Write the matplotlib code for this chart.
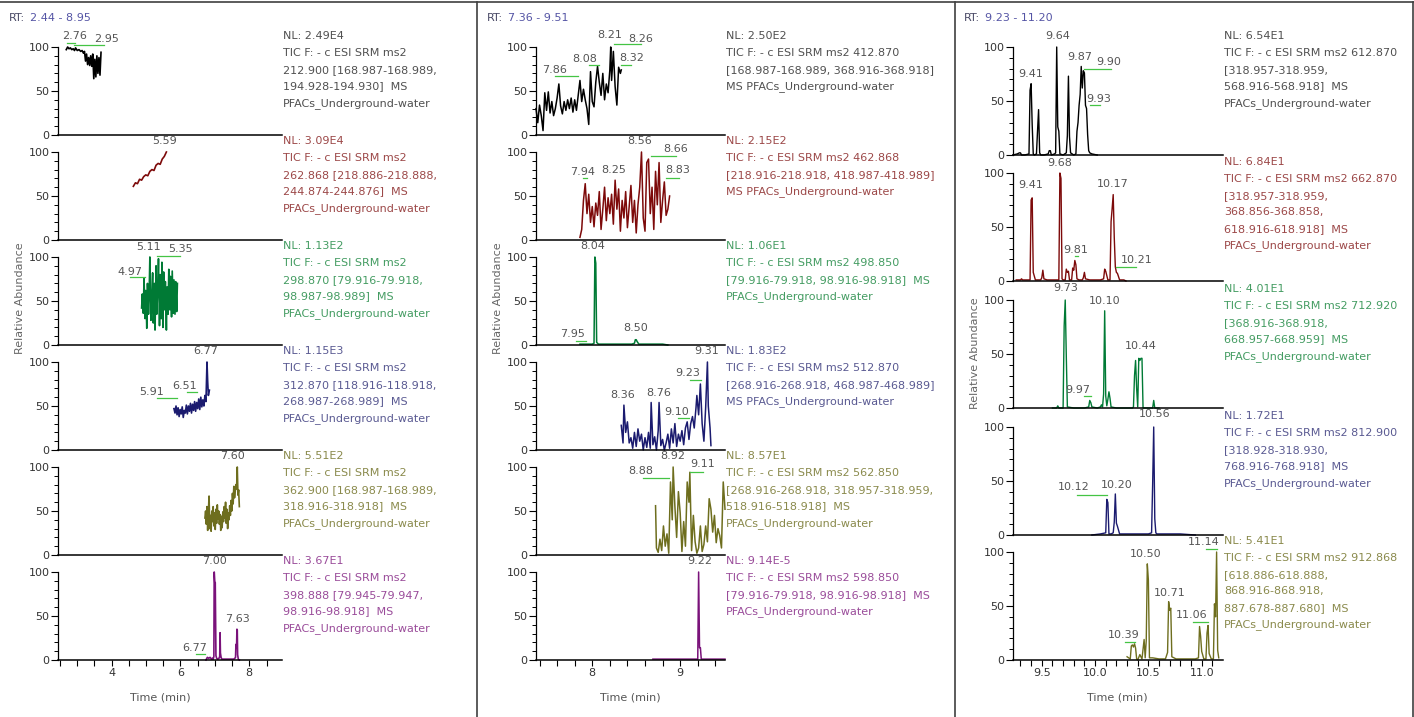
import matplotlib
matplotlib.use("Agg")
import matplotlib.pyplot as plt
from matplotlib.lines import Line2D

W, H = 1414, 717

# ---------------- data: column 1 (RT 2.44 - 8.95) ----------------
t_212 = [2.68, 2.72, 2.76, 2.80, 2.84, 2.88, 2.92, 2.95, 3.00, 3.05, 3.10, 3.14, 3.18, 3.21, 3.24,
         3.27, 3.30, 3.33, 3.36, 3.39, 3.42, 3.45, 3.48, 3.51, 3.54, 3.57, 3.60, 3.63, 3.66, 3.69]
i_212 = [97, 100, 98, 99, 97, 98, 96, 99, 96, 97, 95, 96, 93, 95, 84,
         92, 80, 88, 79, 90, 78, 92, 64, 86, 66, 90, 70, 88, 68, 94]

t_262 = [4.63, 4.69, 4.75, 4.81, 4.87, 4.93, 4.99, 5.05, 5.11, 5.17, 5.23, 5.29, 5.35, 5.41, 5.47, 5.53, 5.59]
i_262 = [61, 65, 64, 69, 68, 72, 74, 73, 78, 80, 79, 85, 87, 86, 92, 95, 100]

t_298 = [4.87, 4.89, 4.92, 4.94, 4.97, 4.99, 5.02, 5.04, 5.07, 5.09, 5.11, 5.14, 5.16, 5.19, 5.21,
         5.24, 5.26, 5.29, 5.31, 5.34, 5.36, 5.39, 5.41, 5.44, 5.46, 5.49, 5.51, 5.54, 5.56, 5.59,
         5.61, 5.64, 5.66, 5.69, 5.71, 5.74, 5.76, 5.79, 5.81, 5.84, 5.86, 5.89, 5.91]
i_298 = [42, 58, 36, 76, 30, 62, 19, 70, 35, 60, 100, 28, 45, 82, 25,
         70, 17, 90, 35, 65, 98, 22, 80, 30, 94, 20, 83, 40, 72, 17,
         66, 35, 86, 40, 78, 32, 84, 36, 74, 35, 72, 38, 70]

t_312 = [5.81, 5.84, 5.87, 5.90, 5.93, 5.96, 5.99, 6.02, 6.05, 6.08, 6.11, 6.14, 6.17, 6.20, 6.23,
         6.26, 6.29, 6.32, 6.35, 6.38, 6.41, 6.44, 6.47, 6.50, 6.53, 6.56, 6.59, 6.62, 6.65, 6.68,
         6.71, 6.74, 6.76, 6.77, 6.79, 6.81, 6.84]
i_312 = [47, 42, 50, 40, 48, 38, 46, 41, 49, 37, 45, 42, 51, 41, 50,
         44, 53, 42, 52, 45, 55, 44, 54, 47, 58, 46, 60, 49, 57, 50,
         62, 55, 85, 100, 78, 62, 68]

t_362 = [6.71, 6.73, 6.75, 6.77, 6.79, 6.81, 6.83, 6.85, 6.87, 6.89, 6.91, 6.93, 6.95, 6.97, 6.99,
         7.01, 7.03, 7.05, 7.07, 7.09, 7.11, 7.13, 7.15, 7.17, 7.19, 7.21, 7.23, 7.25, 7.27, 7.29,
         7.31, 7.33, 7.35, 7.37, 7.39, 7.41, 7.43, 7.45, 7.47, 7.49, 7.51, 7.53, 7.55, 7.57, 7.59,
         7.61, 7.63, 7.65, 7.67, 7.69, 7.71]
i_362 = [42, 50, 35, 55, 28, 48, 67, 30, 45, 27, 50, 38, 55, 33, 48,
         29, 52, 36, 57, 41, 50, 35, 46, 28, 44, 31, 49, 38, 55, 42,
         60, 36, 52, 30, 48, 40, 56, 45, 62, 50, 70, 58, 78, 65, 72,
         80, 75, 100, 68, 74, 55]

t_398 = [6.74, 6.78, 6.82, 6.86, 6.90, 6.93, 6.95, 6.97, 6.98, 7.00, 7.01, 7.03, 7.05, 7.08, 7.12,
         7.14, 7.15, 7.16, 7.18, 7.20, 7.25, 7.30, 7.35, 7.40, 7.45, 7.50, 7.55, 7.58, 7.60, 7.61,
         7.62, 7.63, 7.64, 7.65, 7.66, 7.68, 7.71]
i_398 = [0, 3, 2, 3, 1, 2, 1, 4, 100, 86, 88, 5, 2, 1, 2,
         4, 31, 8, 3, 1, 1, 1, 1, 1, 1, 1, 1, 2, 3, 16,
         18, 14, 35, 34, 6, 1, 0]

# ---------------- data: column 2 (RT 7.36 - 9.51) ----------------
t_412 = [7.36, 7.38, 7.40, 7.42, 7.44, 7.46, 7.48, 7.50, 7.52, 7.54, 7.56, 7.58, 7.60, 7.62, 7.64,
         7.66, 7.68, 7.70, 7.72, 7.74, 7.76, 7.78, 7.80, 7.82, 7.84, 7.86, 7.88, 7.90, 7.92, 7.94,
         7.96, 7.98, 8.00, 8.02, 8.04, 8.06, 8.08, 8.10, 8.12, 8.14, 8.16, 8.18, 8.20, 8.21, 8.22,
         8.24, 8.26, 8.28, 8.30, 8.32, 8.33]
i_412 = [30, 14, 34, 22, 5, 48, 28, 49, 25, 38, 22, 30, 42, 58, 33,
         24, 38, 28, 40, 30, 42, 26, 40, 28, 45, 62, 38, 52, 40, 30,
         12, 72, 38, 32, 60, 78, 60, 45, 70, 40, 58, 48, 74, 100, 62,
         95, 55, 34, 77, 70, 74]

t_462 = [7.86, 7.88, 7.90, 7.92, 7.94, 7.96, 7.98, 8.00, 8.02, 8.04, 8.06, 8.08, 8.10, 8.12, 8.14,
         8.16, 8.18, 8.20, 8.22, 8.24, 8.26, 8.28, 8.30, 8.32, 8.34, 8.36, 8.38, 8.40, 8.42, 8.44,
         8.46, 8.48, 8.50, 8.52, 8.54, 8.56, 8.58, 8.60, 8.62, 8.64, 8.66, 8.68, 8.70, 8.72, 8.74,
         8.76, 8.78, 8.80, 8.82, 8.84, 8.86, 8.88]
i_462 = [3, 12, 45, 64, 30, 52, 20, 38, 15, 42, 28, 55, 12, 35, 60,
         22, 48, 30, 52, 18, 68, 35, 58, 10, 45, 25, 55, 14, 38, 62,
         20, 45, 8, 40, 60, 100, 25, 10, 88, 92, 30, 60, 12, 78, 40,
         88, 20, 45, 66, 28, 35, 50]

t_498 = [7.86, 7.90, 7.95, 8.00, 8.02, 8.03, 8.04, 8.05, 8.07, 8.15, 8.25, 8.35, 8.45, 8.48, 8.49,
         8.50, 8.51, 8.53, 8.60, 8.70, 8.80, 8.86]
i_498 = [1, 1, 1, 1, 2, 100, 93, 3, 1, 1, 1, 1, 1, 2, 6,
         6, 4, 1, 1, 1, 1, 0]

t_512 = [8.33, 8.35, 8.36, 8.38, 8.40, 8.42, 8.44, 8.46, 8.48, 8.50, 8.52, 8.54, 8.56, 8.58, 8.60,
         8.62, 8.64, 8.66, 8.67, 8.69, 8.71, 8.73, 8.75, 8.76, 8.78, 8.80, 8.82, 8.84, 8.86, 8.88,
         8.90, 8.92, 8.94, 8.96, 8.98, 9.00, 9.02, 9.04, 9.06, 9.08, 9.10, 9.12, 9.14, 9.16, 9.18,
         9.19, 9.21, 9.23, 9.25, 9.27, 9.29, 9.31, 9.32, 9.34, 9.35]
i_512 = [28, 8, 51, 20, 32, 8, 14, 2, 20, 4, 24, 10, 18, 0, 14,
         3, 20, 2, 54, 6, 15, 0, 22, 54, 5, 12, 0, 8, 18, 2,
         24, 8, 30, 4, 18, 10, 22, 6, 25, 32, 12, 30, 38, 25, 48,
         62, 40, 75, 30, 10, 48, 100, 50, 25, 5]

t_562 = [8.72, 8.73, 8.75, 8.77, 8.79, 8.81, 8.83, 8.85, 8.87, 8.89, 8.91, 8.92, 8.94, 8.96, 8.98,
         9.00, 9.02, 9.04, 9.06, 9.08, 9.10, 9.11, 9.13, 9.15, 9.17, 9.19, 9.21, 9.23, 9.25, 9.27,
         9.29, 9.31, 9.33, 9.35, 9.37, 9.39, 9.41, 9.43, 9.45, 9.47, 9.49, 9.51]
i_562 = [56, 8, 3, 18, 5, 33, 10, 24, 2, 83, 40, 100, 55, 20, 72,
         48, 4, 38, 10, 83, 60, 94, 5, 45, 15, 2, 8, 33, 4, 12,
         33, 15, 64, 52, 26, 45, 14, 30, 22, 8, 83, 52]

t_598 = [8.69, 8.80, 8.90, 9.00, 9.10, 9.18, 9.20, 9.21, 9.22, 9.23, 9.24, 9.30, 9.40, 9.51]
i_598 = [1, 1, 1, 1, 1, 1, 1, 100, 14, 14, 1, 1, 1, 1]

# ---------------- data: column 3 (RT 9.23 - 11.20) ----------------
t_612 = [9.23, 9.27, 9.29, 9.30, 9.31, 9.34, 9.38, 9.39, 9.40, 9.41, 9.42, 9.43, 9.45, 9.46, 9.47,
         9.48, 9.49, 9.52, 9.56, 9.57, 9.58, 9.59, 9.62, 9.63, 9.64, 9.65, 9.66, 9.67, 9.70, 9.73,
         9.74, 9.75, 9.76, 9.77, 9.80, 9.82, 9.83, 9.84, 9.85, 9.86, 9.87, 9.88, 9.89, 9.90, 9.91,
         9.92, 9.93, 9.94, 9.95, 9.97, 10.02]
i_612 = [0, 1, 2, 2, 0, 0, 1, 60, 66, 28, 1, 0, 1, 22, 42,
         2, 0, 0, 1, 4, 4, 0, 1, 2, 100, 26, 22, 1, 0, 2,
         18, 73, 17, 2, 0, 1, 22, 30, 46, 56, 82, 62, 78, 76, 46,
         43, 19, 4, 2, 1, 0]

t_662 = [9.26, 9.30, 9.31, 9.32, 9.36, 9.39, 9.40, 9.41, 9.42, 9.44, 9.49, 9.50, 9.51, 9.52, 9.55,
         9.62, 9.66, 9.67, 9.68, 9.69, 9.70, 9.72, 9.73, 9.74, 9.75, 9.76, 9.78, 9.79, 9.80, 9.81,
         9.82, 9.83, 9.85, 9.88, 9.89, 9.90, 9.91, 9.95, 10.05, 10.08, 10.09, 10.10, 10.12, 10.14, 10.15,
         10.16, 10.17, 10.18, 10.19, 10.20, 10.21, 10.23, 10.27, 10.29]
i_662 = [1, 1, 2, 1, 1, 1, 75, 77, 8, 1, 1, 3, 10, 2, 1,
         1, 1, 100, 95, 2, 1, 1, 11, 8, 9, 1, 1, 12, 10, 19,
         15, 2, 1, 1, 3, 8, 2, 1, 1, 2, 11, 9, 1, 1, 55,
         67, 80, 40, 13, 8, 7, 1, 1, 0]

t_712 = [9.60, 9.64, 9.65, 9.66, 9.70, 9.71, 9.72, 9.73, 9.74, 9.80, 9.90, 9.94, 9.95, 9.96, 9.97,
         10.02, 10.05, 10.06, 10.07, 10.08, 10.09, 10.10, 10.11, 10.12, 10.13, 10.14, 10.15, 10.20, 10.30, 10.35,
         10.36, 10.37, 10.38, 10.39, 10.40, 10.41, 10.42, 10.43, 10.44, 10.45, 10.50, 10.54, 10.55, 10.56, 10.60]
i_712 = [0, 0, 2, 0, 0, 76, 100, 48, 1, 0, 0, 1, 7, 5, 1,
         0, 1, 3, 1, 13, 90, 11, 2, 8, 15, 9, 1, 0, 0, 0,
         1, 30, 44, 18, 1, 46, 44, 46, 46, 0, 0, 0, 7, 0, 0]

t_812 = [9.97, 10.05, 10.10, 10.11, 10.12, 10.13, 10.15, 10.17, 10.18, 10.19, 10.20, 10.21, 10.23, 10.30, 10.40,
         10.50, 10.53, 10.54, 10.55, 10.56, 10.57, 10.58, 10.65, 10.80, 10.94]
i_812 = [0, 1, 2, 33, 30, 1, 1, 2, 12, 38, 11, 8, 1, 1, 1,
         1, 2, 47, 100, 15, 2, 1, 1, 1, 0]

t_912 = [10.30, 10.33, 10.34, 10.35, 10.36, 10.37, 10.38, 10.39, 10.40, 10.42, 10.44, 10.46, 10.47, 10.48, 10.49,
         10.50, 10.51, 10.54, 10.60, 10.66, 10.68, 10.69, 10.70, 10.71, 10.72, 10.76, 10.85, 10.94, 10.97, 10.98,
         10.99, 11.00, 11.02, 11.04, 11.05, 11.06, 11.07, 11.09, 11.11, 11.12, 11.13, 11.14, 11.15, 11.16]
i_912 = [3, 1, 13, 14, 12, 15, 11, 1, 0, 5, 1, 19, 2, 18, 89,
         74, 2, 2, 1, 1, 7, 54, 46, 48, 3, 1, 1, 1, 2, 31,
         22, 8, 1, 1, 25, 32, 6, 1, 1, 52, 40, 100, 9, 2]

# ---------------- scan descriptions ----------------
info_212 = ["NL: 2.49E4", "TIC F: - c ESI SRM ms2", "212.900 [168.987-168.989,", "194.928-194.930]  MS", "PFACs_Underground-water"]
info_262 = ["NL: 3.09E4", "TIC F: - c ESI SRM ms2", "262.868 [218.886-218.888,", "244.874-244.876]  MS", "PFACs_Underground-water"]
info_298 = ["NL: 1.13E2", "TIC F: - c ESI SRM ms2", "298.870 [79.916-79.918,", "98.987-98.989]  MS", "PFACs_Underground-water"]
info_312 = ["NL: 1.15E3", "TIC F: - c ESI SRM ms2", "312.870 [118.916-118.918,", "268.987-268.989]  MS", "PFACs_Underground-water"]
info_362 = ["NL: 5.51E2", "TIC F: - c ESI SRM ms2", "362.900 [168.987-168.989,", "318.916-318.918]  MS", "PFACs_Underground-water"]
info_398 = ["NL: 3.67E1", "TIC F: - c ESI SRM ms2", "398.888 [79.945-79.947,", "98.916-98.918]  MS", "PFACs_Underground-water"]
info_412 = ["NL: 2.50E2", "TIC F: - c ESI SRM ms2 412.870", "[168.987-168.989, 368.916-368.918]", "MS PFACs_Underground-water"]
info_462 = ["NL: 2.15E2", "TIC F: - c ESI SRM ms2 462.868", "[218.916-218.918, 418.987-418.989]", "MS PFACs_Underground-water"]
info_498 = ["NL: 1.06E1", "TIC F: - c ESI SRM ms2 498.850", "[79.916-79.918, 98.916-98.918]  MS", "PFACs_Underground-water"]
info_512 = ["NL: 1.83E2", "TIC F: - c ESI SRM ms2 512.870", "[268.916-268.918, 468.987-468.989]", "MS PFACs_Underground-water"]
info_562 = ["NL: 8.57E1", "TIC F: - c ESI SRM ms2 562.850", "[268.916-268.918, 318.957-318.959,", "518.916-518.918]  MS", "PFACs_Underground-water"]
info_598 = ["NL: 9.14E-5", "TIC F: - c ESI SRM ms2 598.850", "[79.916-79.918, 98.916-98.918]  MS", "PFACs_Underground-water"]
info_612 = ["NL: 6.54E1", "TIC F: - c ESI SRM ms2 612.870", "[318.957-318.959,", "568.916-568.918]  MS", "PFACs_Underground-water"]
info_662 = ["NL: 6.84E1", "TIC F: - c ESI SRM ms2 662.870", "[318.957-318.959,", "368.856-368.858,", "618.916-618.918]  MS", "PFACs_Underground-water"]
info_712 = ["NL: 4.01E1", "TIC F: - c ESI SRM ms2 712.920", "[368.916-368.918,", "668.957-668.959]  MS", "PFACs_Underground-water"]
info_812 = ["NL: 1.72E1", "TIC F: - c ESI SRM ms2 812.900", "[318.928-318.930,", "768.916-768.918]  MS", "PFACs_Underground-water"]
info_912 = ["NL: 5.41E1", "TIC F: - c ESI SRM ms2 912.868", "[618.886-618.888,", "868.916-868.918,", "887.678-887.680]  MS", "PFACs_Underground-water"]

# peak labels: (text, text x, text y, green leader (x0, x1, y) or None)
pk_212 = [("2.76", 2.92, 112, (2.71, 2.94, 105)), ("2.95", 3.84, 109, (2.91, 3.79, 102))]
pk_262 = [("5.59", 5.53, 112, None)]
pk_298 = [("4.97", 4.53, 83, (4.53, 4.97, 77)), ("5.11", 5.07, 111, None), ("5.35", 6.01, 109, (5.33, 6.00, 101))]
pk_312 = [("5.91", 5.17, 66, (5.31, 5.90, 59)), ("6.51", 6.12, 73, (6.18, 6.49, 66)), ("6.77", 6.74, 113, None)]
pk_362 = [("7.60", 7.52, 113, None)]
pk_398 = [("7.00", 6.98, 112, None), ("7.63", 7.65, 47, None), ("6.77", 6.42, 14, (6.44, 6.72, 7))]
pk_412 = [("8.21", 8.20, 114, None), ("8.26", 8.55, 109, (8.25, 8.56, 103)), ("8.32", 8.45, 88, (8.33, 8.44, 80)),
          ("8.08", 7.91, 86, (7.96, 8.08, 79)), ("7.86", 7.57, 74, (7.58, 7.84, 67))]
pk_462 = [("8.56", 8.54, 112, None), ("8.66", 8.95, 103, (8.67, 8.95, 95)), ("8.83", 8.97, 79, (8.84, 8.99, 70)),
          ("8.25", 8.24, 80, None), ("7.94", 7.89, 77, (7.90, 7.94, 70))]
pk_498 = [("8.04", 8.01, 112, None), ("8.50", 8.49, 19, None), ("7.95", 7.78, 13, (7.82, 7.93, 5))]
pk_512 = [("8.36", 8.34, 62, None), ("8.76", 8.75, 65, None), ("9.10", 8.96, 43, (8.97, 9.10, 36)),
          ("9.23", 9.09, 88, (9.11, 9.24, 80)), ("9.31", 9.30, 113, None)]
pk_562 = [("8.92", 8.91, 113, None), ("8.88", 8.55, 95, (8.58, 8.87, 88)), ("9.11", 9.25, 103, (9.11, 9.26, 94))]
pk_598 = [("9.22", 9.22, 112, None)]
pk_612 = [("9.64", 9.65, 110, None), ("9.41", 9.40, 75, None), ("9.87", 9.86, 91, None),
          ("9.90", 10.13, 86, (9.90, 10.15, 80)), ("9.93", 10.03, 52, (9.95, 10.05, 46))]
pk_662 = [("9.68", 9.67, 109, None), ("9.41", 9.40, 89, None), ("10.17", 10.17, 90, None),
          ("9.81", 9.82, 29, (9.81, 9.84, 23)), ("10.21", 10.39, 19, (10.20, 10.38, 13))]
pk_712 = [("9.73", 9.72, 111, None), ("10.10", 10.09, 99, None), ("10.44", 10.43, 57, None),
          ("9.97", 9.84, 17, (9.90, 9.96, 11))]
pk_812 = [("10.56", 10.555, 112, None), ("10.12", 9.80, 44, (9.83, 10.11, 37)), ("10.20", 10.20, 46, None)]
pk_912 = [("10.50", 10.47, 98, None), ("10.71", 10.70, 62, None), ("11.06", 10.91, 42, (10.92, 11.06, 35)),
          ("10.39", 10.27, 23, (10.28, 10.37, 17)), ("11.14", 11.015, 109, (11.04, 11.14, 103))]

# trace colour, text colour
BLACK = ("#000000", "#505050")
RED = ("#7d0a0a", "#9c4848")
GREEN = ("#007a35", "#449c62")
NAVY = ("#1b1b6f", "#5a5a92")
OLIVE = ("#6e6e1e", "#8a8a4c")
PURPLE = ("#7a127a", "#9a4c9a")

columns = [
    dict(left=58, right=282, xlim=(2.44, 8.95), span=88, bases=[135, 240, 345, 450, 555, 660],
         ticks=[2.5, 3, 3.5, 4, 4.5, 5, 5.5, 6, 6.5, 7, 7.5, 8, 8.5], labels={4: "4", 6: "6", 8: "8"},
         rt="2.44 - 8.95", x0=0, ylab_y=298, xlab_x=160, lw=1.2,
         traces=[(t_212, i_212, BLACK, info_212, pk_212), (t_262, i_262, RED, info_262, pk_262),
                 (t_298, i_298, GREEN, info_298, pk_298), (t_312, i_312, NAVY, info_312, pk_312),
                 (t_362, i_362, OLIVE, info_362, pk_362), (t_398, i_398, PURPLE, info_398, pk_398)]),
    dict(left=536, right=725, xlim=(7.36, 9.51), span=88, bases=[135, 240, 345, 450, 555, 660],
         ticks=[7.4, 7.6, 7.8, 8.0, 8.2, 8.4, 8.6, 8.8, 9.0, 9.2, 9.4], labels={8.0: "8", 9.0: "9"},
         rt="7.36 - 9.51", x0=478, ylab_y=298, xlab_x=630, lw=1.1,
         traces=[(t_412, i_412, BLACK, info_412, pk_412), (t_462, i_462, RED, info_462, pk_462),
                 (t_498, i_498, GREEN, info_498, pk_498), (t_512, i_512, NAVY, info_512, pk_512),
                 (t_562, i_562, OLIVE, info_562, pk_562), (t_598, i_598, PURPLE, info_598, pk_598)]),
    dict(left=1013, right=1223, xlim=(9.23, 11.20), span=108, bases=[155, 281, 408, 535, 660],
         ticks=[9.3, 9.4, 9.5, 9.6, 9.7, 9.8, 9.9, 10.0, 10.1, 10.2, 10.3, 10.4, 10.5, 10.6, 10.7,
                10.8, 10.9, 11.0, 11.1],
         labels={9.5: "9.5", 10.0: "10.0", 10.5: "10.5", 11.0: "11.0"},
         rt="9.23 - 11.20", x0=955, ylab_y=353, xlab_x=1117, lw=1.0,
         traces=[(t_612, i_612, BLACK, info_612, pk_612), (t_662, i_662, RED, info_662, pk_662),
                 (t_712, i_712, GREEN, info_712, pk_712), (t_812, i_812, NAVY, info_812, pk_812),
                 (t_912, i_912, OLIVE, info_912, pk_912)]),
]

FS = 8
fig = plt.figure(figsize=(W / 100, H / 100), dpi=100)


def fx(px):
    return px / W


def fy(py):
    return 1 - py / H


for col in columns:
    nrow = len(col["traces"])
    for k, (t, y, colors, info, peaks) in enumerate(col["traces"]):
        base = col["bases"][k]
        ax = fig.add_axes([fx(col["left"]), fy(base), (col["right"] - col["left"]) / W, col["span"] / H])
        ax.patch.set_visible(False)
        ax.plot(t, y, color=colors[0], lw=col["lw"], clip_on=False)
        ax.set_xlim(col["xlim"])
        ax.set_ylim(0, 100)
        for s in ("top", "right"):
            ax.spines[s].set_visible(False)
        ax.spines["left"].set_linewidth(0.9)
        ax.spines["bottom"].set_linewidth(1.1)
        ax.set_yticks([0, 50, 100])
        ax.set_yticks(range(0, 101, 10), minor=True)
        ax.tick_params(axis="y", which="major", length=5, width=0.8, pad=1, labelsize=FS, labelcolor="#333333")
        ax.tick_params(axis="y", which="minor", length=3, width=0.7)
        if k == nrow - 1:
            ax.set_xticks(col["ticks"])
            ax.set_xticklabels([col["labels"].get(round(v, 1), "") for v in col["ticks"]])
            ax.tick_params(axis="x", length=4, width=0.8, pad=2, labelsize=FS, labelcolor="#333333")
        else:
            ax.set_xticks([])

        # peak annotations
        for txt, tx, ty, lead in peaks:
            ax.text(tx, ty, txt, ha="center", va="center", fontsize=FS, color="#555555", clip_on=False)
            if lead is not None:
                ax.plot([lead[0], lead[1]], [lead[2], lead[2]], color="#44c444", lw=0.9, clip_on=False)

        # scan description block on the right
        top = base - col["span"] - 11
        for j, line in enumerate(info):
            fig.text(fx(col["right"] + 1), fy(top + j * 16.8), line, ha="left", va="center",
                     fontsize=FS, color=colors[1])

    fig.text(fx(col["x0"] + 9), fy(18), "RT:", ha="left", va="center", fontsize=FS, color="#4a4a66")
    fig.text(fx(col["x0"] + 30), fy(18), col["rt"], ha="left", va="center", fontsize=FS, color="#5555a5")
    fig.text(fx(col["x0"] + 20), fy(col["ylab_y"]), "Relative Abundance", rotation=90, ha="center",
             va="center", fontsize=FS, color="#666666")
    fig.text(fx(col["xlab_x"]), fy(698), "Time (min)", ha="center", va="center", fontsize=FS, color="#555555")

# panel frame lines
fig.add_artist(Line2D([0, 1], [fy(2), fy(2)], transform=fig.transFigure, color="#404040", lw=1.2))
for xp in (477, 955, 1412.5):
    fig.add_artist(Line2D([fx(xp), fx(xp)], [fy(2), 0], transform=fig.transFigure, color="#404040", lw=1.2))

fig.savefig("out.png", dpi=100)
